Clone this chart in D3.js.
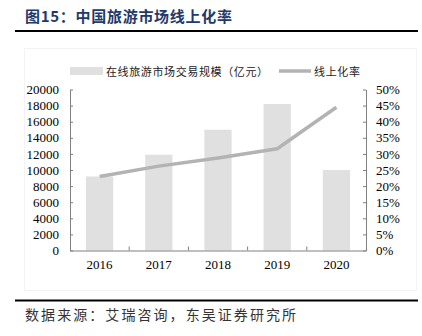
<!DOCTYPE html>
<html><head><meta charset="utf-8">
<script src="https://cdn.jsdelivr.net/npm/d3@7"></script>
<style>body{margin:0;background:#fff}svg{display:block}text{text-spacing-trim:space-all}</style>
</head><body>
<svg id="c" width="422" height="336"></svg>
<script>
const years = ["2016","2017","2018","2019","2020"];
const volume = [9200, 11900, 15000, 18200, 10000];
const onlineRate = [0.23, 0.262, 0.287, 0.316, 0.445];
const leftTicks = [0,2000,4000,6000,8000,10000,12000,14000,16000,18000,20000];
const rightTicks = [0,0.05,0.1,0.15,0.2,0.25,0.3,0.35,0.4,0.45,0.5];
const title = "图15：中国旅游市场线上化率";
const legendLabels = ["在线旅游市场交易规模（亿元）","线上化率"];
const source = "数据来源：艾瑞咨询，东吴证券研究所";

const svg = d3.select("#c");
const serif = "'Liberation Serif','DejaVu Serif',serif";
const cjk = "'Noto Sans CJK SC',sans-serif";
const m = {l:70, r:366, t:89.5, b:250.5};

// faint chart box
svg.append("rect").attr("x",24.5).attr("y",48.5).attr("width",392).attr("height",242)
  .attr("fill","none").attr("stroke","#f3f3f3");

// title
svg.append("text").attr("x",25).attr("y",22).attr("fill","#1f3a6b")
  .attr("font-family",cjk).attr("font-weight","bold").attr("font-size",15)
  .attr("textLength",207).attr("lengthAdjust","spacing").text(title);
svg.append("line").attr("x1",15).attr("x2",418).attr("y1",31).attr("y2",31)
  .attr("stroke","#000").attr("stroke-width",2);

const x = d3.scaleBand().domain(years).range([m.l,m.r]).paddingInner(0.54).paddingOuter(0.27);
const xb = d3.scaleBand().domain(years).range([m.l,m.r]);
const yL = d3.scaleLinear().domain([0,20000]).range([m.b,m.t]);
const yR = d3.scaleLinear().domain([0,0.5]).range([m.b,m.t]);

// bars
svg.selectAll("rect.bar").data(years).join("rect").attr("class","bar")
  .attr("x",d=>x(d)).attr("width",x.bandwidth())
  .attr("y",(d,i)=>yL(volume[i])).attr("height",(d,i)=>m.b-yL(volume[i]))
  .attr("fill","#e0e0e0");

// line
const line = d3.line().x((d,i)=>xb(years[i])+xb.bandwidth()/2).y(d=>yR(d));
svg.append("path").datum(onlineRate).attr("d",line).attr("fill","none")
  .attr("stroke","#b3b3b3").attr("stroke-width",3.5).attr("stroke-linejoin","round");

const axisColor = "#808080";
const gL = svg.append("g").attr("transform",`translate(${m.l},0)`)
  .call(d3.axisLeft(yL).tickValues(leftTicks).tickSizeInner(-3).tickSizeOuter(0).tickPadding(11).tickFormat(d3.format("d")));
const gR = svg.append("g").attr("transform",`translate(${m.r},0)`)
  .call(d3.axisRight(yR).tickValues(rightTicks).tickSizeInner(-3).tickSizeOuter(0).tickPadding(10).tickFormat(d3.format(".0%")));
const gB = svg.append("g").attr("transform",`translate(0,${m.b})`)
  .call(d3.axisBottom(xb).tickSize(0).tickPadding(9));
gB.selectAll(".bt").data(years.slice(1)).join("line").attr("class","bt")
  .attr("x1",d=>xb(d)).attr("x2",d=>xb(d)).attr("y1",0).attr("y2",-4).attr("stroke",axisColor);

[gL,gR,gB].forEach(g=>{
  g.selectAll("path.domain").attr("stroke",axisColor);
  g.selectAll(".tick line").attr("stroke",axisColor);
  g.selectAll("text").attr("font-family",serif).attr("font-size",13).attr("fill","#000");
});

// legend
svg.append("rect").attr("x",70).attr("y",67).attr("width",33).attr("height",8).attr("fill","#e0e0e0");
svg.append("text").attr("x",106).attr("y",75.5).attr("font-family",cjk).attr("font-size",11)
  .attr("textLength",162).attr("lengthAdjust","spacing")
  .attr("fill","#222").text(legendLabels[0]);
svg.append("line").attr("x1",279).attr("x2",311).attr("y1",71).attr("y2",71)
  .attr("stroke","#b3b3b3").attr("stroke-width",3.5);
svg.append("text").attr("x",314).attr("y",75.5).attr("font-family",cjk).attr("font-size",11)
  .attr("textLength",46).attr("lengthAdjust","spacing")
  .attr("fill","#222").text(legendLabels[1]);

// footer
svg.append("line").attr("x1",15).attr("x2",418).attr("y1",300.5).attr("y2",300.5)
  .attr("stroke","#000").attr("stroke-width",2);
svg.append("text").attr("x",25).attr("y",320).attr("font-family",cjk).attr("font-size",14)
  .attr("textLength",271).attr("lengthAdjust","spacing")
  .attr("fill","#333").text(source);
</script>
</body></html>
